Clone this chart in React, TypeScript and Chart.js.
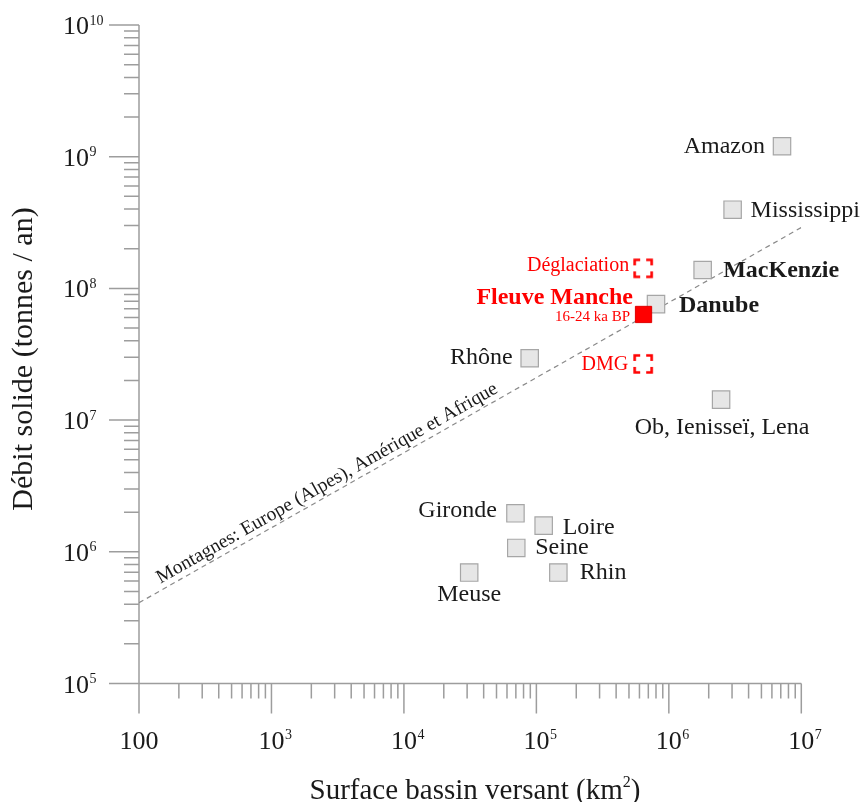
import React, { useEffect, useRef } from 'react';
import { Chart, registerables } from 'chart.js';

Chart.register(...registerables);

// ---------------- DATA ----------------
const riverNames = ['Amazon', 'Mississippi', 'MacKenzie', 'Danube', 'Rhône', 'Ob, Ienisseï, Lena', 'Gironde', 'Loire', 'Seine', 'Rhin', 'Meuse'];
const riverArea = [7.15e6, 3.03e6, 1.8e6, 8.0e5, 8.9e4, 2.48e6, 6.95e4, 1.135e5, 7.05e4, 1.465e5, 3.11e4];
const riverFlux = [1.2e9, 3.96e8, 1.38e8, 7.6e7, 2.95e7, 1.43e7, 1.96e6, 1.58e6, 1.07e6, 6.96e5, 6.96e5];

const mancheNames = ['Fleuve Manche'];
const mancheSubtitle = '16-24 ka BP';
const mancheArea = [6.44e5];
const mancheFlux = [6.34e7];

const scenarioNames = ['Déglaciation', 'DMG'];
const scenarioArea = [6.4e5, 6.4e5];
const scenarioFlux = [1.42e8, 2.67e7];

const trendArea = [100, 1e7];
const trendFlux = [4.1e5, 2.9e8];
const trendLabel = 'Montagnes: Europe (Alpes), Amérique et Afrique';
const trendLabelAt = 2900;

const xMin = 100;
const xMax = 1e7;
const yMin = 1e5;
const yMax = 1e10;
const xMajorTicks = [100, 1e3, 1e4, 1e5, 1e6, 1e7];
const xTickBase = ['100', '10', '10', '10', '10', '10'];
const xTickExp = ['', '3', '4', '5', '6', '7'];
const yMajorTicks = [1e5, 1e6, 1e7, 1e8, 1e9, 1e10];
const yTickBase = ['10', '10', '10', '10', '10', '10'];
const yTickExp = ['5', '6', '7', '8', '9', '10'];
const minorMultipliers = [2, 3, 4, 5, 6, 7, 8, 9];

const xTitleMain = 'Surface bassin versant (km';
const xTitleSup = '2';
const xTitleEnd = ')';
const yTitle = 'Débit solide (tonnes / an)';

// ---------------- STYLES (label placement) ----------------
const riverLabelStyle = [
  { align: 'right', dx: -17, dy: 0, bold: false },
  { align: 'left', dx: 18, dy: 1, bold: false },
  { align: 'left', dx: 20.5, dy: 1, bold: true },
  { align: 'left', dx: 23, dy: 1.5, bold: true },
  { align: 'right', dx: -17, dy: -1, bold: false },
  { align: 'center', dx: 1, dy: 28, bold: false },
  { align: 'right', dx: -18.5, dy: -2.5, bold: false },
  { align: 'left', dx: 19, dy: 2, bold: false },
  { align: 'left', dx: 19, dy: 0, bold: false },
  { align: 'left', dx: 21.5, dy: 0.5, bold: false },
  { align: 'center', dx: 0, dy: 22, bold: false },
];
const scenarioLabelStyle = [
  { dx: -14, dy: -2.5 },
  { dx: -15, dy: 1 },
];

const FONT = '"Liberation Serif", "Times New Roman", Times, serif';
const AXIS_COLOR = '#9d9d9d';
const TEXT_COLOR = '#1a1a1a';
const RED = '#ff0000';

function makeDashedSquare(): HTMLCanvasElement {
  const c = document.createElement('canvas');
  c.width = 22;
  c.height = 22;
  const g = c.getContext('2d')!;
  g.strokeStyle = RED;
  g.lineWidth = 2.6;
  g.setLineDash([11, 6]);
  g.lineDashOffset = 5.5;
  g.strokeRect(2.5, 2.5, 17, 17);
  return c;
}

const overlayPlugin = {
  id: 'overlay',
  beforeDatasetsDraw(chart: any) {
    const { ctx } = chart;
    const xs = chart.scales.x;
    const ys = chart.scales.y;
    const left = xs.getPixelForValue(xMin);
    const right = xs.getPixelForValue(xMax);
    const top = ys.getPixelForValue(yMax);
    const bottom = ys.getPixelForValue(yMin);
    ctx.save();
    ctx.strokeStyle = AXIS_COLOR;
    ctx.lineWidth = 1.5;
    ctx.beginPath();
    ctx.moveTo(left, top);
    ctx.lineTo(left, bottom);
    ctx.lineTo(right, bottom);
    // x ticks
    xMajorTicks.forEach((d, i) => {
      const px = xs.getPixelForValue(d);
      ctx.moveTo(px, bottom);
      ctx.lineTo(px, bottom + 30);
      if (i < xMajorTicks.length - 1) {
        minorMultipliers.forEach((m) => {
          const p = xs.getPixelForValue(d * m);
          ctx.moveTo(p, bottom);
          ctx.lineTo(p, bottom + 15);
        });
      }
    });
    // y ticks
    yMajorTicks.forEach((d, i) => {
      const py = ys.getPixelForValue(d);
      ctx.moveTo(left, py);
      ctx.lineTo(left - 30, py);
      if (i < yMajorTicks.length - 1) {
        minorMultipliers.forEach((m) => {
          const p = ys.getPixelForValue(d * m);
          ctx.moveTo(left, p);
          ctx.lineTo(left - 15, p);
        });
      }
    });
    ctx.stroke();

    // tick labels
    ctx.fillStyle = TEXT_COLOR;
    ctx.textBaseline = 'alphabetic';
    const baseFont = `26px ${FONT}`;
    const expFont = `14px ${FONT}`;
    const xBase = bottom + 65;
    xMajorTicks.forEach((d, i) => {
      const px = xs.getPixelForValue(d);
      ctx.font = baseFont;
      if (!xTickExp[i]) {
        ctx.textAlign = 'center';
        ctx.fillText(xTickBase[i], px, xBase);
      } else {
        const w = ctx.measureText(xTickBase[i]).width;
        ctx.textAlign = 'left';
        ctx.fillText(xTickBase[i], px - w / 2, xBase);
        ctx.font = expFont;
        ctx.fillText(xTickExp[i], px + w / 2 + 0.5, xBase - 9.5);
      }
    });
    const yLabelLeft = left - 76;
    yMajorTicks.forEach((d, i) => {
      const py = ys.getPixelForValue(d);
      ctx.font = baseFont;
      ctx.textAlign = 'left';
      const w = ctx.measureText(yTickBase[i]).width;
      ctx.fillText(yTickBase[i], yLabelLeft, py + 9);
      ctx.font = expFont;
      ctx.fillText(yTickExp[i], yLabelLeft + w + 0.5, py - 0.5);
    });

    // axis titles
    ctx.font = `29px ${FONT}`;
    const mainW = ctx.measureText(xTitleMain).width;
    ctx.font = `16px ${FONT}`;
    const supW = ctx.measureText(xTitleSup).width;
    ctx.font = `29px ${FONT}`;
    const endW = ctx.measureText(xTitleEnd).width;
    const totalW = mainW + supW + endW;
    const tx = 475 - totalW / 2;
    const ty = 799;
    ctx.textAlign = 'left';
    ctx.fillText(xTitleMain, tx, ty);
    ctx.font = `16px ${FONT}`;
    ctx.fillText(xTitleSup, tx + mainW, ty - 12);
    ctx.font = `29px ${FONT}`;
    ctx.fillText(xTitleEnd, tx + mainW + supW, ty);

    ctx.save();
    ctx.translate(24, 359);
    ctx.rotate(-Math.PI / 2);
    ctx.textAlign = 'center';
    ctx.textBaseline = 'middle';
    ctx.font = `30px ${FONT}`;
    ctx.fillText(yTitle, 0, 0);
    ctx.restore();

    ctx.restore();
  },
  afterDatasetsDraw(chart: any) {
    const { ctx } = chart;
    const xs = chart.scales.x;
    const ys = chart.scales.y;
    ctx.save();
    // trend label
    const p1x = xs.getPixelForValue(trendArea[0]);
    const p1y = ys.getPixelForValue(trendFlux[0]);
    const p2x = xs.getPixelForValue(trendArea[1]);
    const p2y = ys.getPixelForValue(trendFlux[1]);
    const ang = Math.atan2(p2y - p1y, p2x - p1x);
    const ax = xs.getPixelForValue(trendLabelAt);
    const t = (ax - p1x) / (p2x - p1x);
    const ay = p1y + t * (p2y - p1y);
    ctx.save();
    ctx.translate(ax, ay);
    ctx.rotate(ang);
    ctx.fillStyle = TEXT_COLOR;
    ctx.font = `19.5px ${FONT}`;
    ctx.textAlign = 'center';
    ctx.textBaseline = 'alphabetic';
    ctx.fillText(trendLabel, 0, -6);
    ctx.restore();

    // river labels (dataset 2)
    const riverMeta = chart.getDatasetMeta(2);
    ctx.textBaseline = 'middle';
    ctx.fillStyle = TEXT_COLOR;
    riverMeta.data.forEach((pt: any, i: number) => {
      const s = riverLabelStyle[i];
      ctx.font = `${s.bold ? 'bold ' : ''}24px ${FONT}`;
      ctx.textAlign = s.align;
      ctx.fillText(riverNames[i], pt.x + s.dx, pt.y + s.dy);
    });

    // Manche labels (dataset 0)
    const mm = chart.getDatasetMeta(0).data[0];
    ctx.fillStyle = RED;
    ctx.textAlign = 'right';
    ctx.font = `bold 24px ${FONT}`;
    ctx.fillText(mancheNames[0], mm.x - 10.5, mm.y - 16.5);
    ctx.font = `15px ${FONT}`;
    ctx.fillText(mancheSubtitle, mm.x - 13.5, mm.y + 2.5);

    // scenario labels (dataset 1)
    const sm = chart.getDatasetMeta(1);
    ctx.font = `20px ${FONT}`;
    sm.data.forEach((pt: any, i: number) => {
      const s = scenarioLabelStyle[i];
      ctx.fillText(scenarioNames[i], pt.x + s.dx, pt.y + s.dy);
    });
    ctx.restore();
  },
};

export default function App() {
  const canvasRef = useRef<HTMLCanvasElement | null>(null);

  useEffect(() => {
    if (!canvasRef.current) return;
    const dashedSquare = makeDashedSquare();
    const chart = new Chart(canvasRef.current, {
      type: 'scatter',
      data: {
        datasets: [
          {
            label: mancheNames[0],
            data: mancheArea.map((x, i) => ({ x, y: mancheFlux[i] })),
            pointStyle: 'rect',
            pointRadius: 11.5,
            backgroundColor: RED,
            borderColor: '#e00000',
            borderWidth: 1,
          },
          {
            label: 'scenarios',
            data: scenarioArea.map((x, i) => ({ x, y: scenarioFlux[i] })),
            pointStyle: dashedSquare,
            pointRadius: 10,
          },
          {
            label: 'rivers',
            data: riverArea.map((x, i) => ({ x, y: riverFlux[i] })),
            pointStyle: 'rect',
            pointRadius: 12.3,
            backgroundColor: '#e6e6e6',
            borderColor: '#a6a6a6',
            borderWidth: 1.2,
          },
          {
            label: 'trend',
            type: 'line',
            data: trendArea.map((x, i) => ({ x, y: trendFlux[i] })),
            showLine: true,
            borderColor: '#8a8a8a',
            borderWidth: 1.2,
            borderDash: [5, 4],
            pointRadius: 0,
            fill: false,
          } as any,
        ],
      },
      options: {
        responsive: false,
        animation: false,
        events: [],
        layout: { padding: { left: 139, right: 62.7, top: 25, bottom: 118.5 } },
        plugins: { legend: { display: false }, tooltip: { enabled: false } },
        scales: {
          x: { type: 'logarithmic', min: xMin, max: xMax, display: false },
          y: { type: 'logarithmic', min: yMin, max: yMax, display: false },
        },
      },
      plugins: [overlayPlugin],
    });
    return () => chart.destroy();
  }, []);

  return (
    <div style={{ position: 'absolute', left: 0, top: 0, width: 864, height: 802, background: '#fff' }}>
      <canvas ref={canvasRef} width={864} height={802} style={{ display: 'block' }} />
    </div>
  );
}
